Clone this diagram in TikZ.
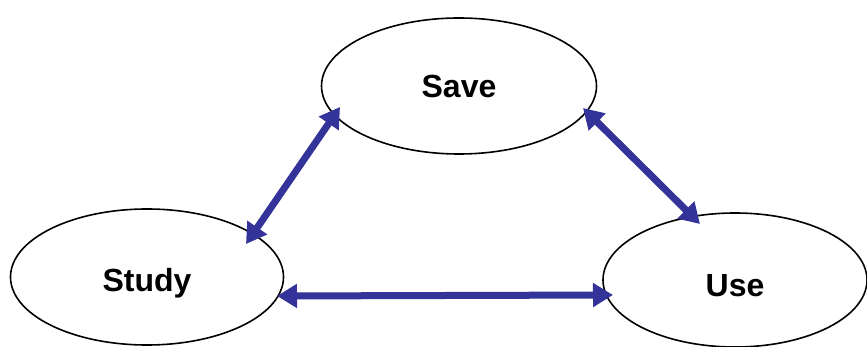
\documentclass[tikz,border=0pt]{standalone}
\usepackage{fontspec}
\setmainfont{Liberation Sans}
\usetikzlibrary{shapes.geometric,arrows.meta,calc}
\definecolor{arrowblue}{HTML}{333399}
\tikzset{
  oval/.style={ellipse, draw=black, line width=1.6pt, fill=white, inner sep=0pt,
    font=\bfseries\fontsize{32}{32}\selectfont},
  link/.style={draw=arrowblue, line width=7pt,
    {Triangle[length=20pt,width=23pt]}-{Triangle[length=20pt,width=23pt]}}
}
\begin{document}
\begin{tikzpicture}[x=1pt,y=-1pt]
\useasboundingbox (0,0) rectangle (867,347);
\clip (0,0) rectangle (867,347);
\node[oval, minimum width=275pt, minimum height=136pt] (save) at (459,86) {Save};
\node[oval, minimum width=273pt, minimum height=136pt] (study) at (147,277) {\raisebox{-6pt}[\height][\depth]{Study}};
\node[oval, minimum width=264pt, minimum height=134pt] (use) at (735,280) {\raisebox{-6pt}[\height][\depth]{Use}};
\draw[link] ($(study.center)+(99,-33)$) -- ($(save.center)+(-119,21)$);
\draw[link] ($(save.center)+(124,22)$) -- ($(use.center)+(-35,-56)$);
\draw[link] ($(study.center)+(130,19)$) -- ($(use.center)+(-122,15)$);
\end{tikzpicture}
\end{document}
